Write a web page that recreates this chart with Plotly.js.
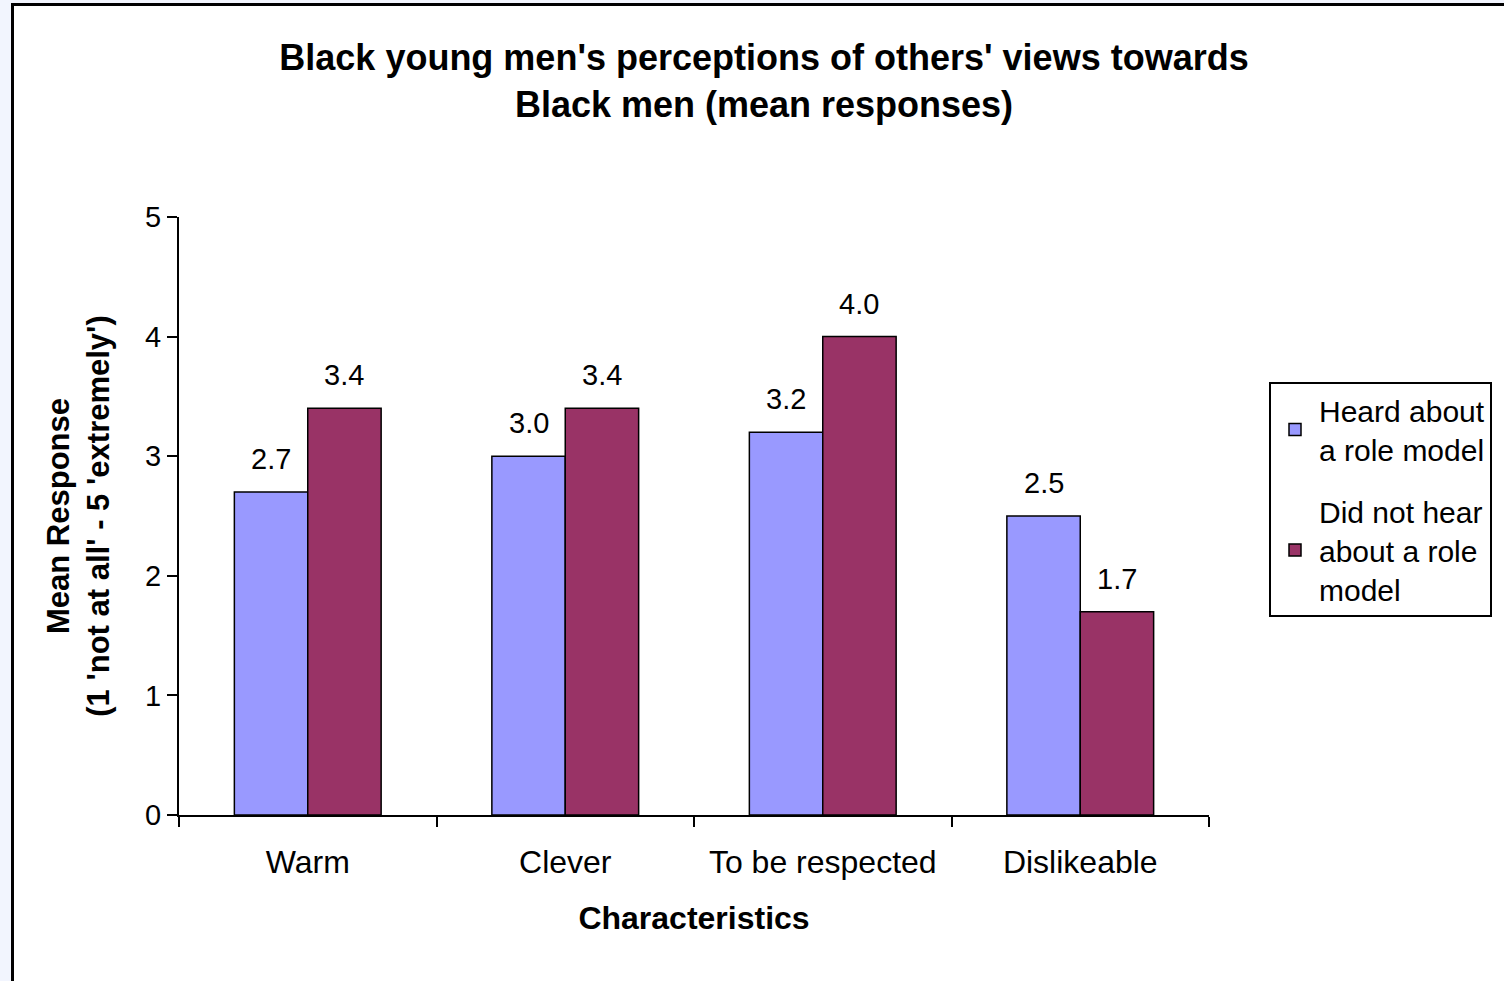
<!DOCTYPE html>
<html>
<head>
<meta charset="utf-8">
<script src="https://cdn.plot.ly/plotly-3.0.1.min.js"></script>
<style>
  html, body { margin: 0; padding: 0; background: #f2f5fe; width: 1504px; height: 981px; overflow: hidden; }
  #frame { position: absolute; left: 11px; top: 3px; width: 1600px; height: 1100px; border: 3px solid #000; background: #fff; }
  #chart { position: absolute; left: 0; top: 0; width: 1504px; height: 981px; }
</style>
</head>
<body>
<div id="frame"></div>
<div id="chart"></div>
<script>
const categories = ["Warm", "Clever", "To be respected", "Dislikeable"];
const heardValues = [2.7, 3.0, 3.2, 2.5];
const notHeardValues = [3.4, 3.4, 4.0, 1.7];
const seriesNames = ["Heard about<br>a role model", "Did not hear<br>about a role<br>model"];
const seriesColors = ["#9999FF", "#993366"];
const yTicks = [0, 1, 2, 3, 4, 5];

const FONT = "Liberation Sans, Arial, sans-serif";
const margin = {l: 179, r: 295, t: 217, b: 166, autoexpand: false};
const W = 1504, H = 981;
const bargap = 0.43;
const plotW = W - margin.l - margin.r;
const catW = plotW / categories.length;
const barW = catW * (1 - bargap) / 2;

const traces = [
  {type: "bar", x: categories, y: heardValues, name: seriesNames[0], legendgroup: "a",
   marker: {color: seriesColors[0], line: {color: "#000", width: 1.5}}},
  {type: "bar", x: categories, y: notHeardValues, name: seriesNames[1], legendgroup: "b",
   marker: {color: seriesColors[1], line: {color: "#000", width: 1.5}}}
];

const annotations = [];
[heardValues, notHeardValues].forEach((vals, si) => {
  vals.forEach((v, i) => {
    annotations.push({
      x: categories[i], y: v, xref: "x", yref: "y",
      text: v.toFixed(1), showarrow: false,
      xshift: (si === 0 ? -1 : 1) * barW / 2, yshift: 33, yanchor: "middle",
      font: {family: FONT, size: 29, color: "#000"}
    });
  });
});

const layout = {
  width: W, height: H,
  margin: margin,
  paper_bgcolor: "rgba(0,0,0,0)",
  plot_bgcolor: "#fff",
  barmode: "group", bargap: bargap, bargroupgap: 0,
  font: {family: FONT, color: "#000"},
  title: {
    text: "<b>Black young men's perceptions of others' views towards<br>Black men (mean responses)</b>",
    font: {family: FONT, size: 36, color: "#000"},
    xref: "container", x: 764 / W, xanchor: "center",
    yref: "container", y: 1 - 70 / H, yanchor: "top"
  },
  xaxis: {
    type: "category",
    ticks: "outside", tickson: "boundaries", ticklen: 10, tickwidth: 2, tickcolor: "#000",
    showline: true, linecolor: "#000", linewidth: 2,
    ticklabelstandoff: 18,
    tickfont: {family: FONT, size: 32, color: "#000"},
    title: {text: "<b>Characteristics</b>", font: {family: FONT, size: 32, color: "#000"}, standoff: 27}
  },
  yaxis: {
    range: [0, 5], tickvals: yTicks, ticktext: yTicks.map(String),
    ticks: "outside", ticklen: 10, tickwidth: 2, tickcolor: "#000",
    showline: true, linecolor: "#000", linewidth: 2,
    showgrid: false, zeroline: false,
    tickfont: {family: FONT, size: 29, color: "#000"},
    title: {text: "<b>Mean Response<br>(1 'not at all' - 5 'extremely')</b>", font: {family: FONT, size: 31, color: "#000"}, standoff: 26}
  },
  legend: {
    x: (1269 - margin.l) / plotW, y: (H - margin.b - 382) / (H - margin.t - margin.b),
    xanchor: "left", yanchor: "top",
    bordercolor: "#000", borderwidth: 2, bgcolor: "#fff",
    font: {family: FONT, size: 30, color: "#000"},
    tracegroupgap: 20, itemwidth: 38, traceorder: "grouped"
  },
  showlegend: true,
  annotations: annotations
};

Plotly.newPlot("chart", traces, layout, {displayModeBar: false, staticPlot: true});
</script>
</body>
</html>
